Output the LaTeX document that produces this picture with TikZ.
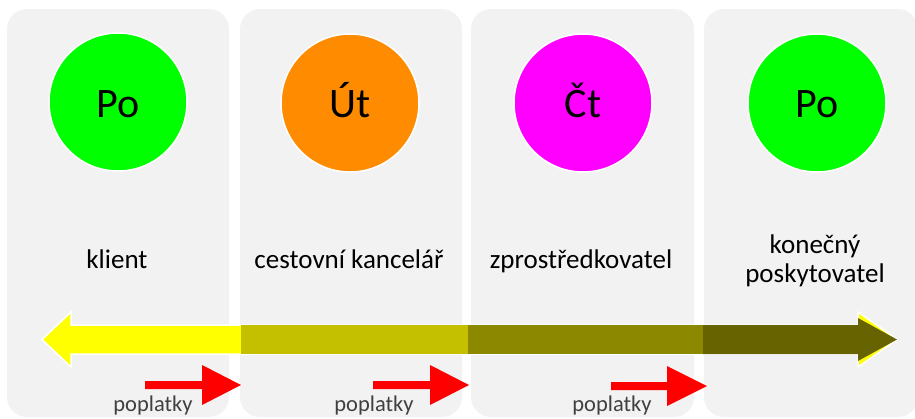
\documentclass[tikz,border=0pt]{standalone}
\usepackage{fontspec}
\setmainfont{Carlito}
\definecolor{panelgray}{HTML}{F2F2F2}
\definecolor{cgreen}{HTML}{00FF00}
\definecolor{corange}{HTML}{FF8C00}
\definecolor{cmagenta}{HTML}{FF00FF}
\definecolor{ayellow}{HTML}{FFFF00}
\definecolor{aolive1}{HTML}{C4C000}
\definecolor{aolive2}{HTML}{8C8800}
\definecolor{aolive3}{HTML}{676300}
\definecolor{feegray}{HTML}{404040}
\begin{document}
\begin{tikzpicture}[x=1pt,y=-1pt,
  panel/.style={fill=panelgray,draw=none,rounded corners=20pt},
  bubble/.style={circle,fill=#1,draw=white,line width=1.5pt,minimum size=138pt,inner sep=0pt},
  bubbletext/.style={font=\fontsize{42}{42}\selectfont,anchor=base},
  role/.style={font=\fontsize{27}{31}\selectfont,anchor=base,align=center},
  fee/.style={font=\fontsize{22.5}{22}\selectfont,text=feegray,anchor=base},
  redarrow/.style={fill=red,draw=none}]
\useasboundingbox (0,0) rectangle (915,418);
% panels
\fill[panel] (7,9) rectangle (229,417);
\fill[panel] (240,9) rectangle (462,417);
\fill[panel] (471,9) rectangle (694,417);
\fill[panel] (704,9) rectangle (918,417);
% circles
\node[bubble=cgreen] (c1) at (118,102) {};
\node[bubble=corange] (c2) at (350,103) {};
\node[bubble=cmagenta] (c3) at (583,103) {};
\node[bubble=cgreen] (c4) at (817,103) {};
\node[bubbletext] (t1) at (118,117) {Po};
\node[bubbletext] (t2) at (350,117) {Út};
\node[bubbletext] (t3) at (583,117) {Čt};
\node[bubbletext] (t4) at (817,117) {Po};
% role labels
\node[role] (l1) at (117,268) {klient};
\node[role] (l2) at (349,268) {cestovní kancelář};
\node[role] (l3) at (581,268) {zprostředkovatel};
\node[role] (l4a) at (815,253) {konečný};
\node[role] (l4b) at (815,282) {poskytovatel};
% big double arrow
\filldraw[fill=ayellow,draw=white,line width=1.5pt,line join=miter]
  (42,339.5) -- (71,312) -- (71,325) -- (858,325) -- (858,312) -- (897,339.5)
  -- (858,367) -- (858,354) -- (71,354) -- (71,367) -- cycle;
\fill[aolive1] (241,325) rectangle (468,354);
\fill[aolive2] (468,325) rectangle (703,354);
\fill[aolive3] (703,325) -- (858,325) -- (858,318) -- (897,339.5) -- (858,361)
  -- (858,354) -- (703,354) -- cycle;
% red fee arrows
\fill[redarrow] (145,381) -- (202,381) -- (202,365) -- (241,385) -- (202,405) -- (202,389) -- (145,389) -- cycle;
\fill[redarrow] (373,381) -- (430,381) -- (430,365) -- (469,385) -- (430,405) -- (430,389) -- (373,389) -- cycle;
\fill[redarrow] (611,382) -- (667,382) -- (667,366) -- (707,386) -- (667,406) -- (667,390) -- (611,390) -- cycle;
\node[fee] (f1) at (153,411) {poplatky};
\node[fee] (f2) at (374,411) {poplatky};
\node[fee] (f3) at (612,411) {poplatky};
\end{tikzpicture}
\end{document}
